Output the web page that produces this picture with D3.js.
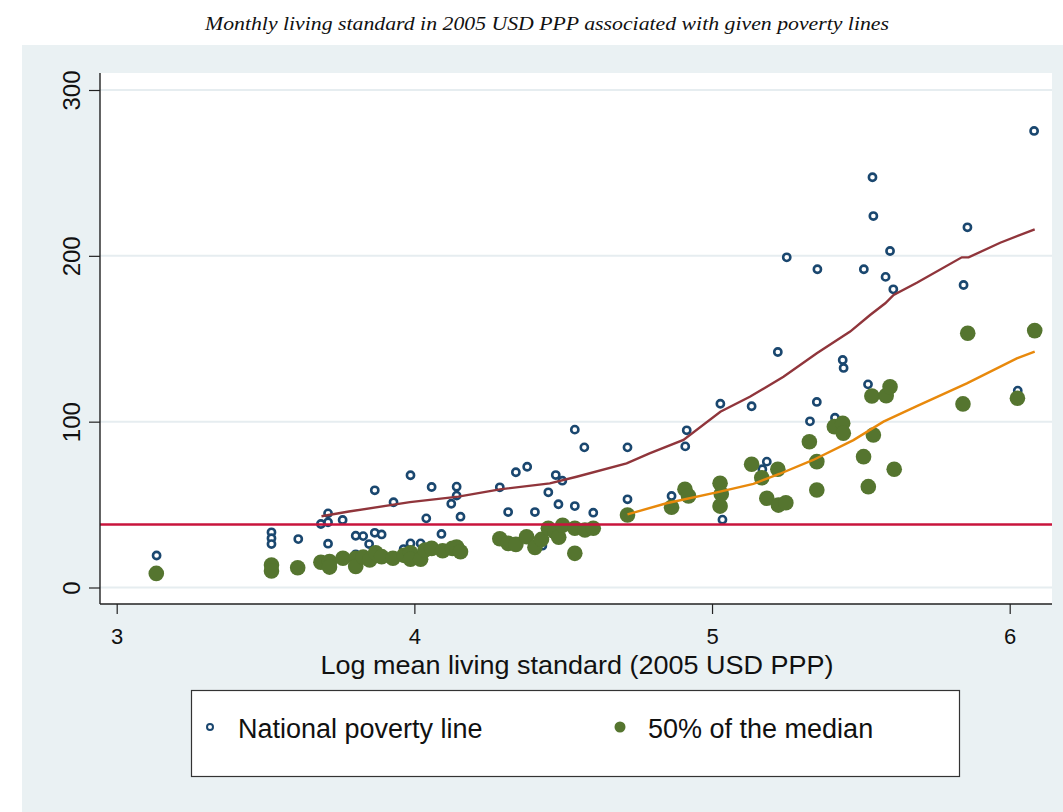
<!DOCTYPE html>
<html>
<head>
<meta charset="utf-8">
<script src="https://cdn.jsdelivr.net/npm/d3@7"></script>
<style>
  html, body { margin: 0; padding: 0; background: #ffffff; }
  svg { display: block; }
</style>
</head>
<body>
<svg id="chart" width="1063" height="812"></svg>
<script>
// National poverty lines: log mean living standard vs monthly amount
const nplX = [3.134, 3.52, 3.52, 3.52, 3.61, 3.686, 3.71, 3.71, 3.71, 3.759, 3.867, 3.803, 3.828, 3.848, 3.867, 3.89, 3.803,
  3.93, 3.987, 4.058, 4.142, 4.142, 4.124, 4.155, 4.04, 4.091, 3.987, 4.021, 3.964,
  4.287, 4.341, 4.379, 4.315, 4.405, 4.45, 4.475, 4.497, 4.484, 4.539, 4.601, 4.571, 4.716, 4.716, 4.43, 4.539,
  4.864, 4.915, 4.91, 5.028, 5.133, 5.035, 5.184, 5.169, 5.329, 5.352,
  5.539, 5.542, 5.251, 5.354, 5.51, 5.598, 5.583, 5.609, 5.858, 5.845, 5.221, 5.439, 5.442, 5.524, 5.413, 6.027, 6.082];
const nplY = [19.3, 33.3, 29.7, 26.2, 29.2, 38.3, 44.7, 39.3, 26.4, 40.7, 58.6, 31.2, 31.0, 26.2, 33.0, 32.0, 20.0,
  51.4, 67.7, 60.6, 60.8, 55.4, 50.5, 42.7, 41.7, 32.3, 26.6, 26.6, 23.2,
  60.4, 69.5, 72.8, 45.5, 45.5, 57.4, 67.8, 64.4, 50.2, 49.1, 45.1, 84.5, 84.5, 53.2, 25.2, 95.2,
  55.2, 94.8, 85.1, 110.8, 109.3, 40.9, 75.9, 71.3, 100.2, 111.9,
  247.4, 224.0, 199.1, 191.9, 191.9, 202.9, 187.3, 179.8, 217.2, 182.4, 142.0, 137.2, 132.4, 122.5, 102.4, 118.7, 275.3];

// Half of the median living standard
const medX = [3.133, 3.52, 3.52, 3.608, 3.686, 3.715, 3.715, 3.76, 3.803, 3.803, 3.828, 3.85, 3.87, 3.89, 3.928, 3.965,
  3.987, 3.987, 4.021, 4.036, 4.058, 4.095, 4.128, 4.142, 4.155,
  4.287, 4.315, 4.341, 4.377, 4.405, 4.427, 4.45, 4.472, 4.485, 4.498, 4.539, 4.539, 4.573, 4.601, 4.716,
  4.864, 4.909, 4.921, 5.027, 5.031, 5.027, 5.133, 5.167, 5.184, 5.221, 5.223, 5.248, 5.327, 5.352, 5.352,
  5.411, 5.439, 5.441, 5.537, 5.585, 5.598, 5.542, 5.509, 5.612, 5.525, 5.843, 6.026, 5.859, 6.084];
const medY = [8.5, 13.6, 10.0, 11.9, 15.2, 15.6, 12.3, 17.6, 17.6, 12.7, 18.4, 16.6, 21.0, 18.6, 17.6, 19.4,
  21.0, 17.0, 17.0, 22.6, 23.6, 22.2, 23.6, 24.4, 21.6,
  29.4, 26.6, 26.0, 30.6, 24.2, 29.0, 35.7, 33.6, 30.3, 37.5, 35.7, 20.6, 34.7, 35.7, 43.7,
  48.4, 59.2, 55.2, 62.8, 56.4, 49.1, 74.3, 66.2, 53.8, 71.3, 49.7, 51.1, 87.9, 75.9, 58.8,
  97.0, 99.0, 93.0, 115.5, 115.7, 121.1, 92.0, 78.9, 71.3, 60.8, 110.7, 114.1, 153.3, 154.9];

// Smoothed fits
const nplFitX = [3.688, 3.78, 3.985, 4.148, 4.287, 4.455, 4.545, 4.713, 4.79, 4.904, 5.028, 5.127, 5.24, 5.352, 5.464, 5.531, 5.582, 5.61, 5.688, 5.839, 5.862, 5.968, 6.084];
const nplFitY = [43.0, 45.8, 51.5, 54.8, 59.2, 62.8, 66.8, 74.9, 80.9, 89.0, 106.0, 115.0, 127.1, 141.2, 154.3, 164.3, 171.4, 176.4, 183.8, 199.1, 199.1, 207.9, 216.0];
const medFitX = [4.716, 4.847, 5.027, 5.139, 5.228, 5.34, 5.475, 5.576, 5.688, 5.856, 6.024, 6.084];
const medFitY = [44.1, 50.8, 57.8, 62.5, 68.6, 76.9, 88.9, 100.0, 109.4, 123.1, 138.2, 142.2];

// Reference poverty line
const refLine = [38];

const xTicks = [3, 4, 5, 6];
const yTicks = [0, 100, 200, 300];

const titleText = "Monthly living standard in 2005 USD PPP associated with given poverty lines";
const xTitle = "Log mean living standard (2005 USD PPP)";
const legendLabels = ["National poverty line", "50% of the median"];

const C = {
  bg: "#eaf1f3",
  grid: "#e6edf0",
  navy: "#1a476f",
  green: "#55752f",
  maroon: "#90353b",
  orange: "#e8890c",
  red: "#c8143c",
  axis: "#222"
};

const SANS = "'Liberation Sans', Arial, sans-serif";

const svg = d3.select("#chart");
const plot = { left: 100, right: 1052, top: 73, bottom: 604 };

const x = d3.scaleLinear().domain([3, 6]).range([116.7, 1009.7]);
const y = d3.scaleLinear().domain([0, 300]).range([587.5, 90]);

// Title on white
svg.append("text")
  .attr("x", 547).attr("y", 30)
  .attr("text-anchor", "middle")
  .attr("font-family", "'Liberation Serif', 'DejaVu Serif', serif")
  .attr("font-style", "italic")
  .attr("font-size", 19)
  .attr("textLength", 684)
  .attr("lengthAdjust", "spacingAndGlyphs")
  .attr("fill", "#111")
  .text(titleText);

// Graph region background
svg.append("rect")
  .attr("x", 22).attr("y", 45)
  .attr("width", 1063 - 22).attr("height", 812 - 45)
  .attr("fill", C.bg);

// Plot area
svg.append("rect")
  .attr("x", plot.left).attr("y", plot.top)
  .attr("width", plot.right - plot.left).attr("height", plot.bottom - plot.top)
  .attr("fill", "#ffffff");

// Gridlines
svg.append("g")
  .selectAll("line").data(yTicks).join("line")
  .attr("x1", plot.left).attr("x2", plot.right)
  .attr("y1", d => y(d)).attr("y2", d => y(d))
  .attr("stroke", C.grid).attr("stroke-width", 2);

const npl = nplX.map((v, i) => ({ x: v, y: nplY[i] }));
const med = medX.map((v, i) => ({ x: v, y: medY[i] }));

// Points: national poverty lines (hollow)
svg.append("g")
  .selectAll("circle").data(npl).join("circle")
  .attr("cx", d => x(d.x)).attr("cy", d => y(d.y))
  .attr("r", 3.6)
  .attr("fill", "#ffffff")
  .attr("stroke", C.navy).attr("stroke-width", 2.6);

// Points: 50% of the median (filled)
svg.append("g")
  .selectAll("circle").data(med).join("circle")
  .attr("cx", d => x(d.x)).attr("cy", d => y(d.y))
  .attr("r", 7.8)
  .attr("fill", C.green);

// Fitted lines
const line = d3.line().x(d => x(d[0])).y(d => y(d[1]));
svg.append("path")
  .datum(nplFitX.map((v, i) => [v, nplFitY[i]]))
  .attr("d", line)
  .attr("fill", "none").attr("stroke", C.maroon).attr("stroke-width", 2.4);
svg.append("path")
  .datum(medFitX.map((v, i) => [v, medFitY[i]]))
  .attr("d", line)
  .attr("fill", "none").attr("stroke", C.orange).attr("stroke-width", 2.4);

// Horizontal reference line
svg.append("g")
  .selectAll("line").data(refLine).join("line")
  .attr("x1", plot.left).attr("x2", plot.right)
  .attr("y1", d => y(d)).attr("y2", d => y(d))
  .attr("stroke", C.red).attr("stroke-width", 2.6);

// Axes
const yAxis = svg.append("g")
  .attr("transform", `translate(${plot.left},0)`)
  .call(d3.axisLeft(y).tickValues(yTicks).tickSize(11).tickSizeOuter(0));
yAxis.select(".domain").attr("d", `M0,${plot.top}V${plot.bottom}`).attr("stroke", C.axis).attr("stroke-width", 1.4);
yAxis.selectAll(".tick line").attr("stroke", C.axis).attr("stroke-width", 1.2);
yAxis.selectAll(".tick text")
  .attr("transform", "rotate(-90)")
  .attr("x", 0).attr("y", -20).attr("dy", 0)
  .attr("text-anchor", "middle")
  .attr("font-family", SANS)
  .attr("font-size", 24).attr("fill", "#111");

const xAxis = svg.append("g")
  .attr("transform", `translate(0,${plot.bottom})`)
  .call(d3.axisBottom(x).tickValues(xTicks).tickFormat(d3.format("d")).tickSize(10).tickSizeOuter(0));
xAxis.select(".domain").attr("d", `M${plot.left},0H${plot.right}`).attr("stroke", C.axis).attr("stroke-width", 1.4);
xAxis.selectAll(".tick line").attr("stroke", C.axis).attr("stroke-width", 1.2);
xAxis.selectAll(".tick text")
  .attr("y", 40).attr("dy", 0)
  .attr("font-family", SANS)
  .attr("font-size", 22).attr("fill", "#111");

svg.append("text")
  .attr("x", 577).attr("y", 674)
  .attr("text-anchor", "middle")
  .attr("font-family", SANS)
  .attr("font-size", 26).attr("fill", "#111")
  .attr("textLength", 513)
  .attr("lengthAdjust", "spacingAndGlyphs")
  .text(xTitle);

// Legend
const lg = svg.append("g");
lg.append("rect")
  .attr("x", 191.5).attr("y", 690.5).attr("width", 768).attr("height", 86)
  .attr("fill", "#ffffff").attr("stroke", "#333").attr("stroke-width", 1.2);
lg.append("circle").attr("cx", 210).attr("cy", 727).attr("r", 3)
  .attr("fill", "#fff").attr("stroke", C.navy).attr("stroke-width", 2);
lg.append("circle").attr("cx", 620).attr("cy", 727).attr("r", 5.5)
  .attr("fill", C.green);
lg.selectAll("text.lbl").data(legendLabels).join("text")
  .attr("class", "lbl")
  .attr("x", (d, i) => i === 0 ? 238 : 648).attr("y", 738)
  .attr("font-family", SANS)
  .attr("font-size", 27).attr("fill", "#111")
  .text(d => d);
</script>
</body>
</html>
